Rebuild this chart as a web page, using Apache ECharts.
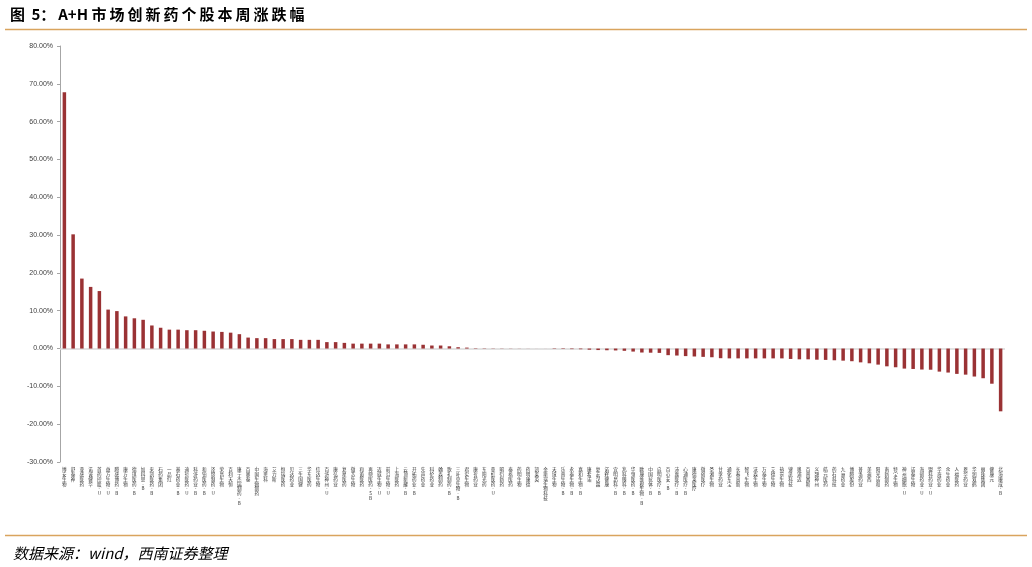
<!DOCTYPE html>
<html>
<head>
<meta charset="utf-8">
<script src="https://cdn.jsdelivr.net/npm/echarts@6/dist/echarts.min.js"></script>
<style>
html,body{margin:0;padding:0;background:#fff;}
#chart{width:1032px;height:567px;}
</style>
</head>
<body>
<div id="chart"></div>
<script>
const titleText = '图 5：A+H 市场创新药个股本周涨跌幅';
const sourceText = '数据来源：wind，西南证券整理';

const categories = [
'博安生物','舒泰神','亚盛医药','诺诚健华','首药控股-U','益方生物-U','腾盛博药-B','康方生物','德琪医药-B','加科思-B',
'来凯医药-B','石药集团','一品红','基石药业-B','迪哲医药-U','科济药业-B','和铂医药-B','泽璟制药-U','荣昌生物','百利天恒',
'康宁杰瑞制药-B','百奥泰','中国生物制药','海思科','艾力斯','恒瑞医药','贝达药业','三生国健','华东医药','信达生物',
'百济神州-U','康弘药业','复星医药','微芯生物','和黄医药','再鼎医药-SB','迈威生物-U','前沿生物-U','上海医药','云顶新耀-B',
'开拓药业-B','先声药业','科伦药业','翰森制药','歌礼制药-B','三叶草生物-B','君实生物','康哲药业','东阳光药','亚虹医药-U',
'昭衍新药','泰格医药','药明生物','药明康德','凯莱英','金斯瑞生物科技','天境生物','乐普生物-B','永泰生物-B','嘉和生物-B',
'康希诺','复宏汉霖','诺辉健康','宜明昂科-B','兆科眼科-B','华领医药-B','欧康维视生物-B','中国抗体-B','启明医疗-B','百心安-B',
'沛嘉医疗-B','心通医疗-B','康德莱医疗','微创医疗','圣湘生物','甘李药业','通化东宝','长春高新','智飞生物','沃森生物',
'万泰生物','艾德生物','热景生物','键凯科技','奥浦迈','百普赛斯','义翘神州','皓元医药','药石科技','九洲药业',
'博腾股份','普洛药业','美迪西','阳光诺和','南新制药','特宝生物','神州细胞-U','诺泰生物','海创药业-U','盟科药业-U',
'华海药业','众生药业','人福医药','恩华药业','华润双鹤','丽珠集团','健康元','北海康成-B'
];

const changes = [
67.8, 30.2, 18.5, 16.3, 15.2, 10.3, 9.9, 8.5, 8.0, 7.6,
6.1, 5.5, 5.0, 5.0, 4.85, 4.85, 4.7, 4.5, 4.4, 4.2,
3.8, 2.9, 2.75, 2.75, 2.5, 2.5, 2.5, 2.3, 2.3, 2.3,
1.7, 1.7, 1.5, 1.3, 1.3, 1.3, 1.3, 1.1, 1.1, 1.1,
1.1, 1.0, 0.8, 0.8, 0.6, 0.35, 0.25, 0.1, 0.08, 0.06,
0.05, 0.04, 0.03, 0.02, 0.01, -0.01, -0.1, -0.12, -0.15, -0.18,
-0.3, -0.4, -0.45, -0.5, -0.6, -0.8, -1.05, -1.1, -1.15, -1.75,
-1.85, -2.0, -2.1, -2.2, -2.3, -2.55, -2.6, -2.6, -2.6, -2.6,
-2.6, -2.6, -2.6, -2.75, -2.85, -2.85, -2.95, -3.0, -3.1, -3.2,
-3.35, -3.65, -3.9, -4.25, -4.7, -4.95, -5.3, -5.4, -5.55, -5.6,
-6.1, -6.35, -6.7, -6.9, -7.4, -7.85, -9.3, -16.6
];

const yMin = -30, yMax = 80, yStep = 10;

// add thin spacing after CJK characters only
function spaced(s){ return s.replace(/([\u3000-\u9fff\uff00-\uffef])/g, '$1\u2009'); }

const chart = echarts.init(document.getElementById('chart'), null, {renderer:'canvas'});
const ruleColor = '#D9A45E';
chart.setOption({
  animation:false,
  backgroundColor:'#ffffff',
  title:[
    {text:spaced(titleText), left:5, top:2, textStyle:{fontFamily:'"Noto Sans CJK SC", sans-serif', fontWeight:'bold', fontSize:15, color:'#000'}},
    {text:sourceText, left:8, top:541, textStyle:{fontFamily:'"Noto Sans CJK SC", sans-serif', fontStyle:'italic', fontWeight:'normal', fontSize:15, color:'#000'}}
  ],
  graphic:[
    {type:'line', shape:{x1:5,y1:29.5,x2:1027,y2:29.5}, style:{stroke:ruleColor, lineWidth:1.5}},
    {type:'line', shape:{x1:5,y1:535.5,x2:1027,y2:535.5}, style:{stroke:ruleColor, lineWidth:1.5}}
  ],
  grid:{left:60, right:27, top:46, bottom:105, containLabel:false},
  xAxis:{
    type:'category', data:categories,
    axisLine:{show:false, onZero:false},
    axisTick:{show:false},
    axisLabel:{
      interval:0, margin:5, fontSize:4.6, lineHeight:4.8, color:'#333',
      fontFamily:'"Noto Sans CJK SC", sans-serif',
      verticalAlign:'top',
      formatter:function(v){return v.split('').join('\n');}
    }
  },
  yAxis:{
    type:'value', min:yMin, max:yMax, interval:yStep,
    axisLine:{show:true, lineStyle:{color:'#a6a6a6', width:1}},
    axisTick:{show:true, length:3, lineStyle:{color:'#a6a6a6'}},
    splitLine:{show:false},
    axisLabel:{fontSize:7, color:'#404040', margin:7, fontFamily:'"Liberation Sans", Arial, sans-serif',
      formatter:function(v){return v.toFixed(2)+'%';}}
  },
  series:[{
    type:'bar', data:changes, barWidth:3.5,
    itemStyle:{color:'#9A3234'},
    markLine:{silent:true, symbol:'none', label:{show:false},
      lineStyle:{color:'#d9d9d9', width:1.5, type:'solid'},
      data:[{yAxis:0}], z:1}
  }]
});
</script>
</body>
</html>
